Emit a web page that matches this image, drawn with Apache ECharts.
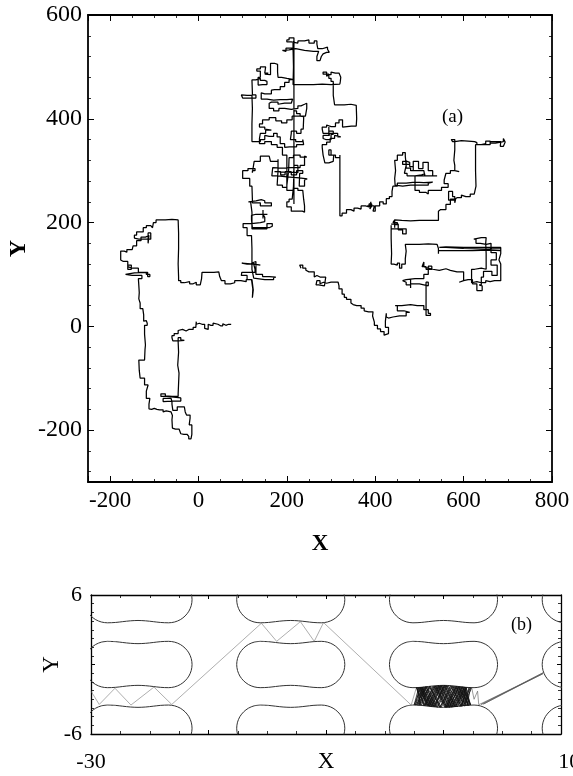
<!DOCTYPE html>
<html>
<head>
<meta charset="utf-8">
<script src="https://cdn.jsdelivr.net/npm/echarts@6/dist/echarts.min.js"></script>
<style>
html,body{margin:0;padding:0;background:#fff;}
#chart{width:573px;height:776px;}
</style>
</head>
<body>
<div id="chart"></div>
<script>
// ---------- Panel (a): random-walk trajectory ----------
const walk = [
[74,4],[68,2],[62,5],[55,1],[50,4],[44,3],[40,6],[33,2],[28,4],[22,2],[22,-6],[18,-4],[14,-2],[14,4],[8,6],[2,4],[-5,9],
[-6,-2],[-12,-6],[-22,-9],[-28,-6],[-36,-8],[-46,-6],
[-46,-14],[-55,-18],[-60,-22],[-58,-28],[-45,-27],[-32,-26],[-40,-22],[-46,-24],
[-46,-30],[-45,-50],[-47,-75],[-44,-90],[-45,-110],[-46,-130],
[-46,-135],[-60,-134],[-75,-130],[-85,-128],[-85,-135],[-72,-138],[-40,-138],[-40,-144],[-60,-145],[-80,-142],[-80,-139],[-62,-139],
[-60,-145],[-60,-150],[-58,-162],[-48,-155],[-32,-155],[-30,-165],[-27,-171],[-19,-177],[-21,-190],[-15,-196],[-15,-208],[-17,-217],[-22,-212],[-26,-208],[-33,-207],[-40,-204],[-44,-198],[-52,-196],[-59,-193],[-60,-180],[-59,-172],[-62,-165],
[-66,-163],[-73,-165],[-80,-161],[-88,-160],[-94,-158],[-100,-160],[-106,-159],[-112,-161],
[-112,-150],[-110,-139],[-118,-125],[-114,-113],[-122,-100],[-132,-97],[-134,-85],[-135,-65],[-122,-62],[-121,-45],[-120,-36],[-122,-15],[-122,2],[-116,6],[-113,9],[-118,11],[-122,10],[-124,22],[-126,34],[-132,45],[-135,53],[-134,65],[-135,79],[-136,92],
[-128,98],[-150,100],[-165,103],[-145,104],[-118,100],[-110,96],[-115,104],[-130,104],[-136,112],[-150,115],[-160,110],[-160,118],[-152,118],[-152,110],[-160,125],[-170,128],[-176,133],[-176,145],[-168,143],[-162,148],[-150,146],[-148,155],[-140,165],[-130,172],[-120,175],[-112,172],[-114,160],[-114,180],[-108,168],[-120,168],[-135,170],[-145,176],[-140,182],[-125,190],[-118,194],[-108,194],[-104,190],[-102,200],[-96,205],[-88,205],
[-75,206],[-60,205],[-46,206],
[-45,180],[-45,150],[-46,120],[-45,95],[-45,88],
[-40,84],[-32,86],[-20,82],[-12,85],[-5,80],[4,82],[7,92],[8,104],[20,104],[35,105],[46,104],[48,96],[52,88],[60,82],[72,84],[82,88],[96,86],[108,90],[121,88],
[124,70],[122,55],[123,72],[120,90],[110,98],[97,100],[98,104],[118,104],[128,110],[125,120],[110,122],[98,120],[125,118],[140,120],[128,122],[121,125],[130,100],[145,96],[160,95],[175,94],[170,90],[150,93],[125,95],[121,110],[121,150],[120,175],[110,190],[101,198],[120,200],[140,202],[150,210],[146,216],[146,224],[146,208],[146,216],[138,216],[156,216],[145,216],[130,214],[120,205],[122,190],[160,193],[167,198],[155,188],[121,188],[121,220],[118,240],[113,242],[130,244],[142,242],[150,238],[165,232],[140,238],[122,245],
[121,270],[116,285],[100,300],[112,304],[128,300],[122,296],[126,318],[140,328],[160,328],[163,318],[180,322],[180,300],[178,272],[190,268],[200,272],[204,300],[205,325],[215,330],[230,326],[245,328],[240,310],[230,306],[210,305],[190,306],[168,304],[166,290],[180,288],[200,286],[228,284],[246,282],[240,270],[228,272],[229,295],[236,295],[236,300],[222,300],[222,292],[210,292],[210,298],[196,298],[196,292],[186,292],[186,298],[172,296],[225,310],[216,305],[215,270],[212,245],[205,240],[200,230],[210,222],[235,220],[240,232],[238,245],[236,262],[225,266],[215,262],
[200,330],[190,345],[178,350],[165,356],[150,352],[138,362],[140,372],[152,378],[165,380],[150,384],[138,390],[145,398],[160,402],[175,396],[188,392],[200,398],[212,405],[230,404],[238,400],[237,380],[232,372],[222,376],[210,372],[208,360],[220,356],[236,360],[238,350],[222,346],[206,345],[195,352],[185,365],[178,372],[170,366],[160,368],[150,360],[140,356],[128,356],[121,366],[121,390],[122,420],[121,445],[110,446],[97,445],[100,440],[115,440],[130,446],[122,450],[121,475],[130,478],[140,474],[150,472],[155,466],[145,465],[135,468],[135,480],[140,492],[132,496],[140,500],[152,498],[150,488],[158,486],[150,485],[163,490],[163,507],[172,505],[179,504],[179,490],[180,480],[188,478],[200,476],[213,475],[205,470],[195,462],[185,456],[172,455],[165,448],[150,450],[142,438],[155,436],[170,437],[185,437],[200,438],[213,437],[210,430],[195,428],[180,432],[165,430],[160,420],[170,415],[182,420],[195,418],[210,420],[225,425],[232,428],[240,430],[245,420],[242,405],[230,410],[222,415],[216,410],[216,236],
[216,556],
[205,552],[200,548],[210,546],[225,550],[240,552],[250,546],[262,550],[268,544],[270,535],[280,538],[292,534],[296,528],[290,525],[282,526],[278,520],[275,512],[268,510],[268,520],[272,530],[260,532],[240,535],[220,533],[205,532],[190,530],[198,536],[214,538],[214,546],[214,530],[214,538],
[215,500],[214,466],[240,466],[260,467],[280,466],[300,467],[320,466],[321,472],[322,480],[318,488],[310,490],[300,485],[295,482],[290,490],[282,486],[295,478],[300,472],
[305,445],[308,427],[330,428],[345,426],[357,424],[358,400],[357,386],[346,385],[336,384],[326,398],[318,392],[310,385],[300,388],[290,384],[280,380],[282,372],[295,376],[295,384],[295,368],[295,376],[305,370],[300,360],[288,362],[282,368],[296,372],[310,372],[315,365],[322,368],[308,362],[298,355],[290,350],[280,345],[282,330],[286,315],[295,318],[305,316],[306,330],[300,340],[295,330],[310,325],[320,330],
[320,300],[320,250],[320,213],
[325,218],[335,225],[345,222],[352,228],[360,226],[368,232],[378,230],[386,236],[392,232],[388,226],[390,240],[390,232],[382,232],[398,232],[395,222],[400,232],[410,240],[418,236],[425,246],[432,250],[438,260],[440,270],[450,276],[470,278],[490,277],[510,278],[530,276],[520,272],[500,272],[480,270],[462,272],[445,270],[444,285],[446,300],[444,320],[450,330],[462,335],[468,328],[470,310],[466,295],[472,290],[490,292],[505,294],[512,290],[510,300],[495,300],[480,305],[470,312],[470,320],[470,305],[470,312],[462,312],[478,312],[462,318],[472,316],[478,308],[486,300],[486,318],[498,318],[498,304],[508,304],[508,316],[520,316],[520,300],[530,300],[530,290],[540,290],[490,262],[500,258],[515,255],[520,262],[535,262],[550,268],[560,268],[565,275],[556,282],[560,295],[570,300],[580,298],[590,300],[580,310],[578,320],[580,340],[580,360],[572,362],[575,356],[580,358],[595,357],[610,356],[625,354],[630,350],[640,352],[650,357],[660,353],[672,355],[684,356],[690,362],[694,355],[690,347],[683,350],[684,356],[660,350],[627,352],[627,330],[627,300],[628,270],[624,255],[615,250],[605,253],[595,248],[585,245],[580,250],[575,260],[566,250],[566,243],[580,238],[582,245],
[570,235],[560,225],[548,222],[543,215],[543,204],[520,204],[500,203],[480,204],[460,205],[444,206],[440,200],[450,196],[444,190],[444,204],[444,197],[436,197],[452,197],[452,186],[462,186],[462,178],[470,178],[470,188],[436,195],[436,170],[437,140],[436,120],[442,118],[450,122],[455,112],[460,120],[468,130],[470,145],[468,158],[480,158],[500,159],[520,158],[540,158],[543,150],[543,140],[543,146],[580,146],[620,147],[660,146],[684,146],[684,152],[640,152],[600,153],[560,152],[545,152],[560,150],[600,149],[650,150],[684,150],
[684,140],[680,128],[684,120],[684,110],[684,100],[684,88],[670,86],[660,88],[650,84],[640,86],[630,84],[618,86],[618,100],[618,110],[625,112],[640,110],[651,112],[651,125],[651,140],[650,160],[651,171],[640,168],[623,168],[628,160],[638,158],[651,160],[662,160],[662,142],[674,142],[674,128],[662,128],[662,118],[676,112],[676,98],[664,98],[664,106],[654,106],[645,95],[640,80],[635,78],[642,69],[630,82],[620,90],[610,88],[600,85],[590,88],[600,98],[600,105],[585,108],[570,111],[560,108],[545,110],[530,112],[520,115],[510,124],[506,115],[515,110],[528,116],[520,100],[510,92],[490,90],[470,88],[462,85],[470,80],[480,82],[480,90],[480,74],[480,82],[500,80],[510,78],[520,85],[515,75],[515,50],[515,30],[515,21],[525,25],[520,32],[510,40],[495,42],[480,40],[460,40],[445,40],[450,30],[465,27],[478,27],[470,20],[455,18],[440,16],[430,18],[425,25],[423,10],[423,-2],[430,-14],[426,-17],[420,-10],[412,-5],[405,2],[398,8],[394,20],[395,28],[385,30],[375,35],[368,40],[358,42],[350,45],[345,52],[335,56],[330,62],[325,72],[318,78],[316,85],[300,83],[290,85],[283,82],[275,88],[268,90],[266,80],[272,78],[285,80],[288,95],[275,98],[268,95],[262,105],[250,108],[243,112],[236,118],[229,117],[232,112]
];

// tick labels shown on panel (a)
const aXTicks = [-200, 0, 200, 400, 600, 800];
const aYTicks = [-200, 0, 200, 400, 600];

// ---------- Panel (b): obstacle lattice + trajectory ----------
const obstacleColX = [-26, -13, 0, 13];
const obstacleRowY = [-5.5, 0, 5.6];
// outline of one obstacle (relative to its centre)
const obstacleOutline = [
[-2.6,2],[-3.12,1.93],[-3.6,1.73],[-4.01,1.41],[-4.33,1],[-4.53,0.52],[-4.6,0],[-4.53,-0.52],[-4.33,-1],[-4.01,-1.41],[-3.6,-1.73],[-3.12,-1.93],[-2.6,-2],
[-1.9,-1.97],[-1.3,-1.9],[-0.65,-1.83],[0,-1.8],[0.65,-1.83],[1.3,-1.9],[1.9,-1.97],[2.6,-2],
[3.12,-1.93],[3.6,-1.73],[4.01,-1.41],[4.33,-1],[4.53,-0.52],[4.6,0],[4.53,0.52],[4.33,1],[4.01,1.41],[3.6,1.73],[3.12,1.93],[2.6,2],
[1.9,1.97],[1.3,1.9],[0.65,1.83],[0,1.8],[-0.65,1.83],[-1.3,1.9],[-1.9,1.97],[-2.6,2]
];
// free flight between obstacles
const trajB = [
[-30,-2.3],[-29.3,-3.45],[-27.96,-2.05],[-26.6,-3.5],[-24.64,-1.95],[-23.13,-3.45],[-15.5,3.56],[-14.2,2.0],[-12.18,3.7],[-11.0,2.0],[-10.21,3.62],[-2.75,-3.5],[-2.3,-1.97]
];
// trapped part between two obstacles
const trapB = [
[-2.3,-1.97],[-1.6,-3.55],[-0.9,-1.88],[0.1,-3.68],[0.9,-1.87],[1.8,-3.6],[2.2,-1.97],[1.4,-3.63],[0.4,-1.82],[-0.5,-3.7],[-1.4,-1.9],[-2.2,-3.52],[-1.8,-1.95],[-1.0,-3.62],[-0.2,-1.81],[0.7,-3.68],[1.6,-1.92],[2.3,-3.5],[1.9,-1.96],[1.1,-3.66],[0.2,-1.8],[-0.8,-3.66],[-1.7,-1.93],[-2.4,-3.5],[-2.0,-1.96],[-1.2,-3.6],[-0.4,-1.83],[0.5,-3.7],[1.3,-1.9],[2.1,-3.55],[1.7,-1.93],[0.8,-3.68],[-0.1,-1.8],[-1.0,-3.64],[-1.9,-1.95],[-2.5,-3.5],[-2.1,-1.98],[-1.3,-3.58],[-0.6,-1.85],[0.3,-3.7],[1.1,-1.88],[2.0,-3.56],[2.3,-2.0],[1.5,-3.62],[0.6,-1.84],[-0.3,-3.7],[-1.2,-1.89],[-2.1,-3.53],[-1.5,-1.91],[-0.7,-3.66],[0.0,-1.8],[0.9,-3.67],[1.8,-1.94],[2.2,-3.52],[1.2,-1.9],[0.3,-3.69],[-0.7,-1.85],[-1.6,-3.56],[-2.3,-1.98],[-1.9,-3.54],[-1.1,-1.88],[-0.2,-3.7],[0.8,-1.86],[1.6,-3.6],[1.9,-1.95],[1.0,-3.66],[0.1,-1.8],[-0.9,-3.64],[-1.8,-1.94],[-1.4,-3.57],[-0.5,-1.84],[0.4,-3.7],[1.4,-1.91],[2.1,-3.54],[1.5,-1.92],[0.6,-3.69],[-0.3,-1.82],[-1.2,-3.6],[-2.0,-1.96],[-1.7,-3.55],[-0.8,-1.86],[0.2,-3.7],[1.0,-1.88],[1.9,-3.57],
[1.3,-1.9],[0.5,-3.7],[-0.4,-1.83],[-1.3,-3.6],[-2.2,-1.97],[-2.0,-3.52],[-1.2,-1.89],[-0.3,-3.7],[0.7,-1.85],[1.5,-3.6],[2.0,-1.96],[1.2,-3.66],[0.3,-1.81],[-0.6,-3.68],[-1.5,-1.92],[-2.3,-3.5],[-1.6,-1.93],[-0.8,-3.65],[0.1,-1.8],[1.0,-3.67],[1.8,-1.94],[2.3,-3.5],[1.6,-1.93],[0.7,-3.69],[-0.2,-1.81],[-1.1,-3.62],[-1.9,-1.95],[-1.5,-3.57],[-0.7,-1.85],[0.2,-3.7],[1.1,-1.88],[1.7,-3.58],[2.4,-2.0]
];
const exitB = [
[2.4,-2.0],[2.6,-3.0],[2.9,-2.3],[3.0,-3.47],[8.45,-0.8],[3.2,-3.45],[8.5,-0.7],[3.4,-3.42],[8.5,-0.75]
];
const bXLabels = [-30, 10];
const bYLabels = [-6, 6];

// ---------- chart ----------
const SERIF = '"Liberation Serif", "DejaVu Serif", serif';
const chart = echarts.init(document.getElementById('chart'), null, {renderer: 'canvas'});

function frameAxis(extra) {
  return Object.assign({
    type: 'value',
    nameMoveOverlap: false,
    axisLine: {show: true, onZero: false, lineStyle: {color: '#000', width: 1.8}},
    axisTick: {show: true, inside: true, length: 6, lineStyle: {color: '#000', width: 1}},
    minorTick: {show: true, length: 3, lineStyle: {color: '#000', width: 0.8}},
    splitLine: {show: false},
    minorSplitLine: {show: false},
    axisLabel: {show: false}
  }, extra);
}

const obstacleSeries = [];
obstacleColX.forEach(cx => {
  obstacleRowY.forEach(cy => {
    obstacleSeries.push({
      type: 'line', xAxisIndex: 2, yAxisIndex: 2,
      data: obstacleOutline.map(p => [cx + p[0], cy + p[1]]),
      showSymbol: false, smooth: 0.3, clip: true, silent: true,
      lineStyle: {color: '#333', width: 1},
      animation: false
    });
  });
});

const bLine = {width: 1.3, color: '#000'};
const option = {
  animation: false,
  backgroundColor: '#fff',
  grid: [
    {left: 88, top: 15, width: 464, height: 467, outerBoundsMode: 'none', containLabel: false},
    {left: 91, top: 595, width: 470, height: 139, outerBoundsMode: 'none', containLabel: false}
  ],
  xAxis: [
    frameAxis({gridIndex: 0, position: 'bottom', min: -250, max: 800,
      minorTick: {show: true, splitNumber: 4, length: 3, lineStyle: {color: '#000', width: 0.8}},
      axisLabel: {show: true, margin: 7, color: '#000', fontFamily: SERIF, fontSize: 23,
        formatter: v => (aXTicks.indexOf(v) >= 0 ? String(v) : '')},
      name: 'X', nameLocation: 'middle', nameGap: 51,
      nameTextStyle: {color: '#000', fontFamily: SERIF, fontSize: 23, fontWeight: 'bold'}}),
    frameAxis({gridIndex: 0, position: 'top', min: -250, max: 800,
      minorTick: {show: true, splitNumber: 4, length: 3, lineStyle: {color: '#000', width: 0.8}}}),
    frameAxis({gridIndex: 1, position: 'bottom', min: -30, max: 10, interval: 10,
      axisLine: {show: true, onZero: false, lineStyle: bLine},
      axisTick: {show: true, inside: true, length: 4, lineStyle: {color: '#000', width: 1}},
      minorTick: {show: true, splitNumber: 4, length: 3, lineStyle: {color: '#000', width: 0.8}},
      axisLabel: {show: true, margin: 17, color: '#000', fontFamily: SERIF, fontSize: 22,
        formatter: v => (v === bXLabels[0] ? String(v) : (v === bXLabels[1] ? '\u00a0\u00a0\u00a0' + v : ''))},
      name: 'X', nameLocation: 'middle', nameGap: 16,
      nameTextStyle: {color: '#000', fontFamily: SERIF, fontSize: 23}}),
    frameAxis({gridIndex: 1, position: 'top', min: -30, max: 10, interval: 10,
      axisLine: {show: true, onZero: false, lineStyle: bLine},
      axisTick: {show: true, inside: true, length: 4, lineStyle: {color: '#000', width: 1}},
      minorTick: {show: true, splitNumber: 4, length: 3, lineStyle: {color: '#000', width: 0.8}}})
  ],
  yAxis: [
    frameAxis({gridIndex: 0, position: 'left', min: -300, max: 600,
      minorTick: {show: true, splitNumber: 5, length: 3, lineStyle: {color: '#000', width: 0.8}},
      axisLabel: {show: true, margin: 6, color: '#000', fontFamily: SERIF, fontSize: 24,
        formatter: v => (aYTicks.indexOf(v) >= 0 ? String(v) : '')},
      name: 'Y', nameLocation: 'middle', nameGap: 57, nameRotate: 90,
      nameTextStyle: {color: '#000', fontFamily: SERIF, fontSize: 24, fontWeight: 'bold'}}),
    frameAxis({gridIndex: 0, position: 'right', min: -300, max: 600,
      minorTick: {show: true, splitNumber: 5, length: 3, lineStyle: {color: '#000', width: 0.8}}}),
    frameAxis({gridIndex: 1, position: 'left', min: -6, max: 6, interval: 6,
      axisLine: {show: true, onZero: false, lineStyle: bLine},
      axisTick: {show: true, inside: true, length: 4, lineStyle: {color: '#000', width: 1}},
      minorTick: {show: true, splitNumber: 8, length: 3, lineStyle: {color: '#000', width: 0.8}},
      axisLabel: {show: true, margin: 9, color: '#000', fontFamily: SERIF, fontSize: 22,
        formatter: v => (bYLabels.indexOf(v) >= 0 ? String(v) : '')},
      name: 'Y', nameLocation: 'middle', nameGap: 28, nameRotate: 90,
      nameTextStyle: {color: '#000', fontFamily: SERIF, fontSize: 23}}),
    frameAxis({gridIndex: 1, position: 'right', min: -6, max: 6, interval: 6,
      axisLine: {show: true, onZero: false, lineStyle: bLine},
      axisTick: {show: true, inside: true, length: 4, lineStyle: {color: '#000', width: 1}},
      minorTick: {show: true, splitNumber: 8, length: 3, lineStyle: {color: '#000', width: 0.8}}})
  ],
  graphic: [
    {type: 'text', left: 442, top: 108, style: {text: '(a)', font: '19px ' + SERIF, fill: '#000'}},
    {type: 'text', left: 511, top: 616, style: {text: '(b)', font: '18px ' + SERIF, fill: '#000'}}
  ],
  series: [
    {type: 'line', xAxisIndex: 0, yAxisIndex: 0, data: walk, step: 'end', showSymbol: false, clip: true,
      lineStyle: {color: '#000', width: 1.25}, silent: true, animation: false},
    ...obstacleSeries,
    {type: 'line', xAxisIndex: 2, yAxisIndex: 2, data: trajB, showSymbol: false, clip: true,
      lineStyle: {color: '#777', width: 0.6}, silent: true, animation: false},
    {type: 'line', xAxisIndex: 2, yAxisIndex: 2, data: trapB, showSymbol: false, clip: true,
      lineStyle: {color: '#111', width: 0.8}, silent: true, animation: false},
    {type: 'line', xAxisIndex: 2, yAxisIndex: 2, data: exitB, showSymbol: false, clip: true,
      lineStyle: {color: '#555', width: 0.6}, silent: true, animation: false}
  ]
};
chart.setOption(option);
</script>
</body>
</html>
